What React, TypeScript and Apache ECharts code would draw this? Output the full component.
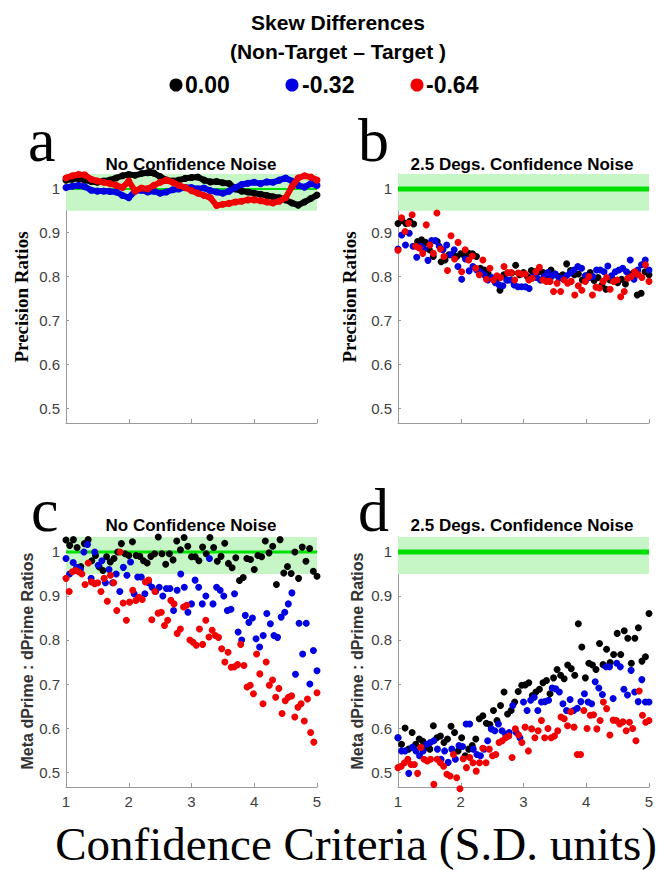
import React, { useEffect, useRef } from 'react';
import * as echarts from 'echarts';

// ---------- data ----------
const yTicks = [0.5, 0.6, 0.7, 0.8, 0.9, 1];
const xTicks = [1, 2, 3, 4, 5];
const legendLabels = ['0.00', '-0.32', '-0.64'];
const seriesColors = ['#000000', '#0000e0', '#f00000'];
const panelTitles = ['No Confidence Noise', '2.5 Degs. Confidence Noise', 'No Confidence Noise', '2.5 Degs. Confidence Noise'];

// panel a: precision ratios, no confidence noise
const aBlack = [1.020,1.022,1.024,1.020,1.017,1.015,1.018,1.020,1.025,1.030,1.033,1.031,1.035,1.037,1.036,1.028,1.020,1.018,1.020,1.024,1.026,1.027,1.020,1.016,1.017,1.014,1.012,1.000,0.995,0.993,0.990,0.988,0.985,0.982,0.980,0.975,0.968,0.963,0.970,0.978,0.986];
const aBlue = [1.003,1.006,1.008,1.005,0.997,0.995,0.995,0.994,0.993,0.985,0.980,0.995,0.997,0.993,0.995,0.990,0.993,0.998,1.000,1.003,1.003,1.000,1.002,0.996,0.993,0.990,0.995,1.003,1.010,1.013,1.015,1.012,1.016,1.015,1.020,1.025,1.018,1.008,1.004,1.012,1.008];
const aRed = [1.025,1.030,1.033,1.032,1.022,1.018,1.015,1.012,1.008,1.003,1.018,0.995,1.002,1.000,1.008,1.015,1.020,1.015,1.008,1.003,0.996,0.990,0.985,0.980,0.962,0.965,0.967,0.970,0.972,0.975,0.975,0.973,0.970,0.968,0.972,0.980,1.005,1.025,1.030,1.027,1.020];

// panel b: precision ratios, 2.5 degs confidence noise
const bBlack = [0.921,0.928,0.921,0.926,0.920,0.880,0.884,0.878,0.861,0.846,0.880,0.834,0.838,0.850,0.850,0.846,0.852,0.847,0.853,0.852,0.846,0.819,0.815,0.806,0.796,0.792,0.769,0.804,0.792,0.808,0.826,0.804,0.809,0.800,0.814,0.811,0.811,0.809,0.804,0.815,0.806,0.800,0.804,0.829,0.814,0.804,0.806,0.792,0.802,0.809,0.791,0.798,0.781,0.771,0.792,0.792,0.786,0.794,0.783,0.804,0.808,0.758,0.762,0.811,0.804];
const bBlue = [0.863,0.895,0.872,0.899,0.869,0.844,0.869,0.863,0.837,0.882,0.882,0.869,0.861,0.872,0.850,0.861,0.823,0.794,0.840,0.813,0.823,0.815,0.811,0.804,0.792,0.798,0.786,0.781,0.779,0.792,0.792,0.781,0.777,0.777,0.777,0.773,0.800,0.798,0.792,0.800,0.809,0.800,0.806,0.796,0.796,0.802,0.808,0.815,0.823,0.819,0.802,0.798,0.800,0.815,0.815,0.811,0.824,0.802,0.811,0.815,0.819,0.811,0.838,0.794,0.815,0.827,0.838,0.815];
const bRed = [0.860,0.934,0.903,0.922,0.941,0.869,0.865,0.853,0.918,0.872,0.853,0.945,0.863,0.846,0.814,0.893,0.840,0.878,0.811,0.861,0.838,0.847,0.819,0.804,0.838,0.794,0.819,0.792,0.802,0.798,0.823,0.809,0.809,0.792,0.808,0.806,0.806,0.792,0.796,0.811,0.821,0.792,0.789,0.789,0.766,0.785,0.766,0.792,0.785,0.789,0.758,0.779,0.769,0.789,0.800,0.758,0.776,0.774,0.789,0.798,0.771,0.789,0.792,0.754,0.766,0.796,0.800,0.811,0.804,0.798,0.827,0.789];

// panel c: meta dprime ratios, no confidence noise
const cBlack = [1.027,1.015,1.028,1.010,0.967,1.019,1.028,0.980,0.992,0.966,0.958,0.989,0.977,0.985,1.000,1.019,0.996,0.992,1.023,0.992,0.990,0.980,0.975,0.990,0.996,1.034,0.996,0.972,0.996,0.982,1.025,1.005,1.033,1.013,0.989,0.989,0.980,1.011,0.996,1.033,1.010,0.979,0.990,1.020,0.974,0.964,0.987,0.935,0.942,0.985,0.983,0.960,0.992,0.989,1.025,0.998,1.013,0.926,1.028,0.952,0.967,0.951,1.000,0.940,1.011,0.979,1.008,0.956,0.945];
const cBlue = [0.985,0.950,0.976,0.965,0.960,1.000,1.017,0.940,1.000,0.970,0.980,0.930,0.960,0.930,0.950,0.910,0.965,0.947,0.977,0.905,0.943,0.943,0.905,0.930,0.920,0.910,0.920,0.900,0.917,0.917,0.867,0.913,0.950,0.920,0.863,0.882,0.936,0.920,0.882,0.900,0.985,0.882,0.920,0.913,0.900,0.867,0.870,0.905,0.818,0.800,0.856,0.840,0.850,0.803,0.784,0.810,0.860,0.837,0.810,0.806,0.852,0.863,0.882,0.907,0.722,0.838,0.768,0.838,0.700,0.776,0.730];
const cRed = [0.940,0.910,0.955,0.958,0.955,0.950,0.926,0.975,0.932,0.928,0.930,0.910,0.940,0.888,0.947,0.930,0.867,1.000,0.884,0.845,0.886,0.913,0.890,0.897,0.892,0.932,0.936,0.846,0.910,0.861,0.863,0.833,0.845,0.890,0.882,0.815,0.825,0.875,0.879,0.800,0.795,0.788,0.825,0.790,0.845,0.807,0.822,0.810,0.806,0.780,0.750,0.772,0.738,0.739,0.744,0.790,0.742,0.693,0.697,0.678,0.768,0.723,0.655,0.750,0.697,0.709,0.670,0.690,0.633,0.662,0.670,0.673,0.625,0.647,0.655,0.616,0.666,0.590,0.568,0.680];

// panel d: meta dprime ratios, 2.5 degs confidence noise
const dBlack = [0.578,0.563,0.600,0.552,0.590,0.563,0.575,0.570,0.556,0.552,0.605,0.578,0.582,0.567,0.575,0.604,0.590,0.548,0.578,0.537,0.552,0.560,0.575,0.621,0.628,0.611,0.608,0.640,0.617,0.651,0.682,0.632,0.640,0.659,0.683,0.697,0.698,0.703,0.674,0.682,0.688,0.703,0.708,0.678,0.714,0.733,0.720,0.712,0.743,0.735,0.720,0.837,0.784,0.714,0.747,0.743,0.733,0.792,0.744,0.779,0.749,0.767,0.815,0.767,0.821,0.804,0.747,0.804,0.828,0.752,0.762,0.860];
const dBlue = [0.578,0.548,0.548,0.497,0.556,0.548,0.537,0.548,0.563,0.567,0.571,0.552,0.529,0.548,0.522,0.552,0.529,0.560,0.558,0.609,0.609,0.552,0.540,0.537,0.552,0.571,0.598,0.594,0.609,0.594,0.586,0.590,0.651,0.590,0.578,0.659,0.640,0.663,0.670,0.640,0.659,0.660,0.663,0.691,0.689,0.682,0.655,0.640,0.665,0.640,0.645,0.660,0.678,0.659,0.655,0.705,0.691,0.676,0.739,0.739,0.667,0.747,0.739,0.688,0.675,0.731,0.682,0.660,0.710,0.659,0.659];
const dRed = [0.510,0.513,0.521,0.529,0.517,0.517,0.497,0.556,0.529,0.525,0.529,0.472,0.529,0.521,0.513,0.495,0.491,0.540,0.487,0.462,0.530,0.510,0.533,0.521,0.502,0.521,0.554,0.521,0.552,0.537,0.540,0.567,0.571,0.578,0.582,0.533,0.598,0.584,0.567,0.602,0.548,0.598,0.578,0.594,0.617,0.578,0.599,0.578,0.582,0.594,0.625,0.621,0.605,0.637,0.602,0.540,0.540,0.640,0.599,0.629,0.630,0.598,0.617,0.659,0.644,0.584,0.618,0.617,0.609,0.614,0.594,0.613,0.599,0.571,0.684,0.629,0.613,0.617];

const panelData = [
  [aBlack, aBlue, aRed],
  [bBlack, bBlue, bRed],
  [cBlack, cBlue, cRed],
  [dBlack, dBlue, dRed],
];

const yMin = 0.466;
const yMax = 1.034;
const bandLow = 0.95;

// ---------- helpers ----------
const toPoints = (ys: number[]) => ys.map((y, i) => [1 + (4 * i) / (ys.length - 1), y]);

const grids = [
  { left: 66, top: 174, width: 251, height: 249 },
  { left: 398, top: 174, width: 251, height: 249 },
  { left: 66, top: 537, width: 251, height: 250 },
  { left: 398, top: 537, width: 251, height: 250 },
];
const greenWidths = [2, 5, 3, 5];

export default function App() {
  const ref = useRef<HTMLDivElement>(null);

  useEffect(() => {
    if (!ref.current) return;
    const chart = echarts.init(ref.current, undefined, { renderer: 'svg' });

    const axisGray = '#9a9a9a';
    const xAxis = grids.map((_, i) => ({
      type: 'value',
      gridIndex: i,
      min: 1,
      max: 5,
      interval: 1,
      axisLine: { show: true, lineStyle: { color: axisGray, width: 1 } },
      axisTick: { show: true, inside: true, length: 4, lineStyle: { color: axisGray } },
      axisLabel: {
        show: i >= 2,
        fontSize: 15,
        color: '#404040',
        margin: 7,
        fontFamily: '"Liberation Sans", Arial, sans-serif',
        customValues: xTicks,
      },
      splitLine: { show: false },
    }));
    const yAxis = grids.map((_, i) => ({
      type: 'value',
      gridIndex: i,
      min: yMin,
      max: yMax,
      axisLine: { show: true, lineStyle: { color: axisGray, width: 1 } },
      axisTick: { show: true, inside: true, length: 3, lineStyle: { color: axisGray }, customValues: yTicks },
      axisLabel: {
        show: true,
        fontSize: 15,
        color: '#404040',
        margin: 6,
        fontFamily: '"Liberation Sans", Arial, sans-serif',
        customValues: yTicks,
      },
      splitLine: { show: false },
    }));

    const series: any[] = [];
    grids.forEach((_, i) => {
      series.push({
        type: 'line',
        xAxisIndex: i,
        yAxisIndex: i,
        data: [[1, 1], [5, 1]],
        showSymbol: false,
        symbol: 'none',
        lineStyle: { color: '#00e000', width: greenWidths[i] },
        z: 1,
        silent: true,
        markArea: {
          silent: true,
          itemStyle: { color: '#c6f6c6' },
          data: [[{ xAxis: 1, yAxis: bandLow }, { xAxis: 5, yAxis: yMax }]],
        },
      });
      panelData[i].forEach((ys, k) => {
        if (i === 0) {
          series.push({
            type: 'line',
            xAxisIndex: i,
            yAxisIndex: i,
            data: toPoints(ys),
            symbol: 'circle',
            symbolSize: 7,
            showSymbol: true,
            clip: false,
            lineStyle: { color: seriesColors[k], width: 6 },
            itemStyle: { color: seriesColors[k] },
            z: 2 + k,
          });
        } else {
          series.push({
            type: 'scatter',
            xAxisIndex: i,
            yAxisIndex: i,
            data: toPoints(ys),
            symbol: 'circle',
            symbolSize: 7,
            clip: false,
            itemStyle: { color: seriesColors[k], opacity: 1 },
            z: 2 + k,
          });
        }
      });
    });

    const sans = '"Liberation Sans", Arial, sans-serif';
    const serif = '"Liberation Serif", "Times New Roman", serif';
    const txt = (text: string, x: number, y: number, font: string, extra: any = {}) => ({
      type: 'text',
      x,
      y,
      rotation: extra.rotation || 0,
      style: {
        text,
        font,
        fill: extra.fill || '#000',
        align: extra.align || 'center',
        verticalAlign: 'middle',
        textAlign: extra.align || 'center',
        textVerticalAlign: 'middle',
      },
      z: 100,
    });

    const legendDots = [176, 292, 417];
    const legendTextX = [185, 302, 426];

    const graphic: any[] = [
      txt('Skew Differences', 338, 22, `bold 21px ${sans}`),
      txt('(Non-Target \u2013 Target )', 338, 51, `bold 21px ${sans}`),
      ...legendDots.map((cx, k) => ({
        type: 'circle',
        shape: { cx, cy: 85, r: 6.5 },
        style: { fill: seriesColors[k] },
        z: 100,
      })),
      ...legendLabels.map((t, k) => txt(t, legendTextX[k], 85, `bold 23px ${sans}`, { align: 'left' })),
      txt(panelTitles[0], 191, 164, `bold 17px ${sans}`),
      txt(panelTitles[1], 522, 164, `bold 17px ${sans}`),
      txt(panelTitles[2], 191, 525, `bold 17px ${sans}`),
      txt(panelTitles[3], 522, 525, `bold 17px ${sans}`),
      txt('a', 28, 140, `62px ${serif}`, { align: 'left' }),
      txt('b', 358, 140, `62px ${serif}`, { align: 'left' }),
      txt('c', 31, 510, `62px ${serif}`, { align: 'left' }),
      txt('d', 358, 510, `62px ${serif}`, { align: 'left' }),
      txt('Precision Ratios', 21, 297, `bold 19px ${serif}`, { rotation: Math.PI / 2 }),
      txt('Precision Ratios', 349, 297, `bold 19px ${serif}`, { rotation: Math.PI / 2 }),
      txt('Meta dPrime : dPrime Ratios', 27, 661, `bold 16px ${sans}`, { rotation: Math.PI / 2, fill: '#333' }),
      txt('Meta dPrime : dPrime Ratios', 357, 661, `bold 16px ${sans}`, { rotation: Math.PI / 2, fill: '#333' }),
      txt('Confidence Criteria (S.D. units)', 356, 844, `47px ${serif}`),
    ];

    chart.setOption({
      animation: false,
      backgroundColor: '#ffffff',
      grid: grids.map((g) => ({ ...g, containLabel: false })),
      xAxis,
      yAxis,
      series,
      graphic,
    });

    return () => {
      chart.dispose();
    };
  }, []);

  return (
    <div
      ref={ref}
      style={{ position: 'fixed', left: 0, top: 0, width: 657, height: 870, background: '#fff' }}
    />
  );
}
